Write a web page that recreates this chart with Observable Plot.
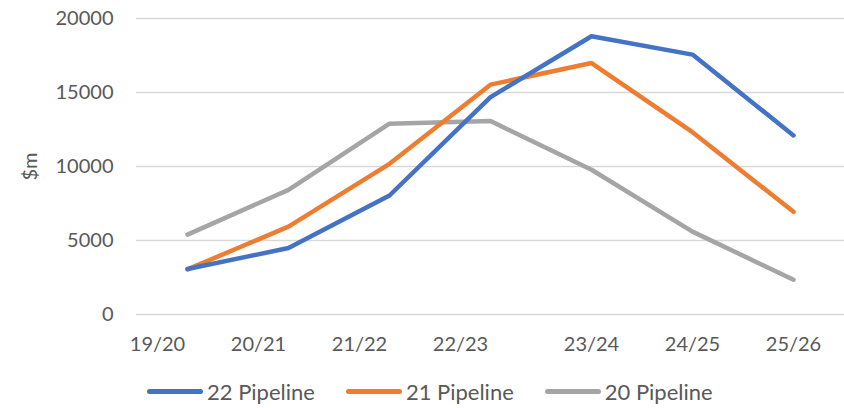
<!DOCTYPE html>
<html>
<head>
<meta charset="utf-8">
<script src="https://cdn.jsdelivr.net/npm/d3@7"></script>
<script src="https://cdn.jsdelivr.net/npm/@observablehq/plot@0.6"></script>
<style>
  html, body { margin: 0; padding: 0; background: #fff; }
  #chart { width: 844px; height: 408px; overflow: hidden; font-family: Lato, sans-serif; color: #595959; }
  .legend { display: flex; align-items: center; height: 33px; padding-left: 147px; gap: 31px; font-size: 22px; color: #595959; }
  .legend .item { display: flex; align-items: center; gap: 4px; }
  .legend .sw { width: 56px; height: 5px; border-radius: 3px; }
</style>
</head>
<body>
<div id="chart"></div>
<script>
const categories = ["19/20", "20/21", "21/22", "22/23", "23/24", "24/25", "25/26"];
const series = ["22 Pipeline", "21 Pipeline", "20 Pipeline"];
const pipeline22 = [3070, 4490, 8040, 14690, 18800, 17560, 12100];
const pipeline21 = [3050, 5940, 10180, 15530, 16990, 12320, 6940];
const pipeline20 = [5400, 8420, 12890, 13070, 9780, 5600, 2350];
const yTicks = [0, 5000, 10000, 15000, 20000];
const yLabel = "$m";
const colors = ["#4472C4", "#ED7D31", "#A5A5A5"];

const valuesBySeries = [pipeline22, pipeline21, pipeline20];
const data = [];
// draw order: 20 (bottom), 21, 22 (top)
[2, 1, 0].forEach(s => {
  categories.forEach((c, i) => data.push({series: series[s], cat: c, value: valuesBySeries[s][i]}));
});

const plot = Plot.plot({
  width: 844,
  height: 375,
  marginLeft: 136,
  marginRight: 0,
  marginTop: 18,
  marginBottom: 61,
  style: {fontFamily: "Lato, sans-serif", fontSize: "20px", color: "#595959", background: "#fff"},
  x: {type: "point", domain: categories, padding: 0.5},
  y: {domain: [0, 20000]},
  color: {domain: series, range: colors},
  marks: [
    Plot.ruleY(yTicks, {stroke: "#d9d9d9", strokeWidth: 1.5}),
    Plot.axisY({ticks: yTicks, tickSize: 0, tickPadding: 23, tickFormat: d => String(d), label: null, fill: "#595959"}),
    Plot.axisX({ticks: categories.slice(0, 4), tickSize: 0, tickPadding: 22, dx: -30, label: null, fill: "#595959"}),
    Plot.axisX({ticks: categories.slice(4), tickSize: 0, tickPadding: 22, label: null, fill: "#595959"}),
    Plot.text([yLabel], {frameAnchor: "left", dx: -106, rotate: -90, fill: "#595959", fontSize: 20, lineAnchor: "middle", textAnchor: "middle"}),
    Plot.line(data, {x: "cat", y: "value", z: "series", stroke: "series", strokeWidth: 4.5, strokeLinecap: "round", strokeLinejoin: "round"})
  ]
});

const chart = document.getElementById("chart");
chart.appendChild(plot);

const legend = document.createElement("div");
legend.className = "legend";
series.forEach((s, i) => {
  const item = document.createElement("div");
  item.className = "item";
  const sw = document.createElement("span");
  sw.className = "sw";
  sw.style.background = colors[i];
  const lab = document.createElement("span");
  lab.textContent = s;
  item.appendChild(sw);
  item.appendChild(lab);
  legend.appendChild(item);
});
chart.appendChild(legend);
</script>
</body>
</html>
